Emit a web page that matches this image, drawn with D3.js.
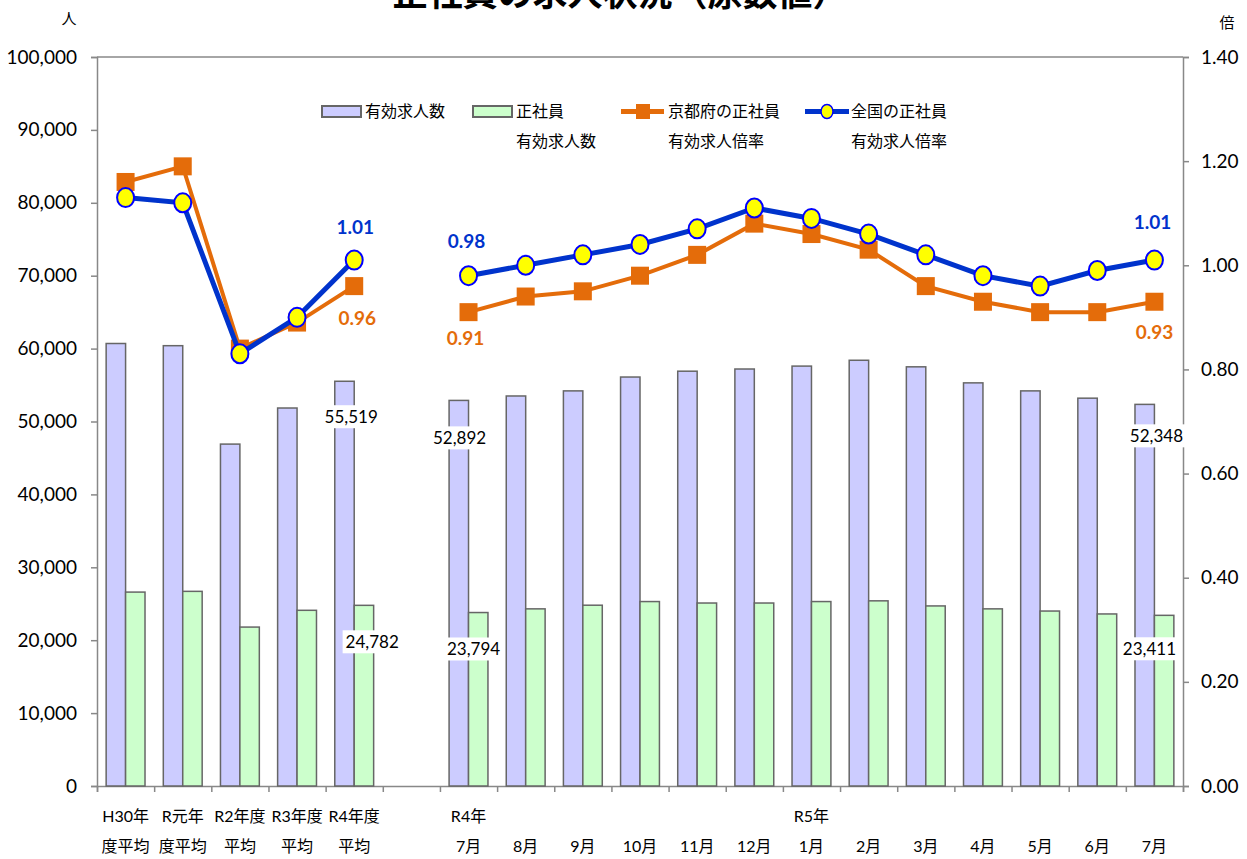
<!DOCTYPE html>
<html>
<head>
<meta charset="utf-8">
<script src="https://cdn.jsdelivr.net/npm/d3@7"></script>
<style>
  body { margin: 0; background: #fff; }
  svg { font-family: Lato, "Noto Sans CJK JP", sans-serif; }
  .axis .domain, .axis line { stroke: #888; stroke-width: 1.5; }
  .axis text { fill: #000; }
</style>
</head>
<body>
<svg id="chart"></svg>
<script>
// categories (two-line labels), "" = empty gap slot
var catLine1 = ["H30年", "R元年", "R2年度", "R3年度", "R4年度", "", "R4年", "", "", "", "", "", "R5年", "", "", "", "", "", ""]
var catLine2 = ["度平均", "度平均", "平均", "平均", "平均", "", "7月", "8月", "9月", "10月", "11月", "12月", "1月", "2月", "3月", "4月", "5月", "6月", "7月"]

// 有効求人数 / 正社員有効求人数 (人)
var allOpenings = [60700, 60400, 46900, 51850, 55519, null, 52892, 53500, 54200, 56100, 56900, 57200, 57600, 58400, 57500, 55300, 54200, 53200, 52348]
var regularOpenings = [26600, 26700, 21800, 24100, 24782, null, 23794, 24300, 24800, 25300, 25100, 25100, 25300, 25400, 24700, 24300, 24000, 23600, 23411]

// 有効求人倍率 (倍)
var kyotoRatio = [1.16, 1.19, 0.84, 0.89, 0.96, null, 0.91, 0.94, 0.95, 0.98, 1.02, 1.08, 1.06, 1.03, 0.96, 0.93, 0.91, 0.91, 0.93]
var nationalRatio = [1.13, 1.12, 0.83, 0.90, 1.01, null, 0.98, 1.00, 1.02, 1.04, 1.07, 1.11, 1.09, 1.06, 1.02, 0.98, 0.96, 0.99, 1.01]

var leftTicks = [0, 10000, 20000, 30000, 40000, 50000, 60000, 70000, 80000, 90000, 100000]
var rightTicks = [0, 0.2, 0.4, 0.6, 0.8, 1.0, 1.2, 1.4]

var labelled = [4, 6, 18]

var dims = { width: 1247, height: 859, left: 97, right: 1183, top: 57, bottom: 786 }

var colors = {
    barAll: "#ccccff",
    barReg: "#ccffcc",
    barStroke: "#666666",
    kyoto: "#e46c0a",
    national: "#0033cc"
}

var numFont = "Lato, sans-serif"

var svg = d3.select("#chart")
    .attr("width", dims.width)
    .attr("height", dims.height)

var idx = d3.range(catLine2.length)

var x = d3.scaleBand()
    .domain(idx)
    .range([dims.left, dims.right])
    .padding(0)

var bw = x.bandwidth() * 0.34
var cx = function (i) { return x(i) + x.bandwidth() / 2 }

var yL = d3.scaleLinear().domain([0, 100000]).range([dims.bottom, dims.top])
var yR = d3.scaleLinear().domain([0, 1.4]).range([dims.bottom, dims.top])

// frame top line
svg.append("line")
    .attr("x1", dims.left).attr("x2", dims.right)
    .attr("y1", dims.top).attr("y2", dims.top)
    .attr("stroke", "#888").attr("stroke-width", 1.5)

// axes
svg.append("g")
    .attr("class", "axis")
    .attr("transform", "translate(" + dims.left + ",0)")
    .call(d3.axisLeft(yL).tickValues(leftTicks).tickFormat(d3.format(",")).tickSize(6).tickPadding(14))
    .attr("font-family", numFont)
    .attr("font-size", 19)

svg.append("g")
    .attr("class", "axis")
    .attr("transform", "translate(" + dims.right + ",0)")
    .call(d3.axisRight(yR).tickValues(rightTicks).tickFormat(d3.format(".2f")).tickSize(6).tickPadding(12))
    .attr("font-family", numFont)
    .attr("font-size", 19)

var xb = d3.scaleLinear().domain([0, catLine2.length]).range([dims.left, dims.right])
svg.append("g")
    .attr("class", "axis")
    .attr("transform", "translate(0," + dims.bottom + ")")
    .call(d3.axisBottom(xb).tickValues(d3.range(0, catLine2.length + 1)).tickFormat("").tickSize(6).tickSizeOuter(6))

// category labels
var catG = svg.append("g").style("font-size", "16px").attr("text-anchor", "middle")
catG.selectAll("text.l1")
    .data(idx)
    .enter()
    .append("text")
    .attr("x", function (i) { return cx(i) })
    .attr("y", 822)
    .text(function (i) { return catLine1[i] })
catG.selectAll("text.l2")
    .data(idx)
    .enter()
    .append("text")
    .attr("x", function (i) { return cx(i) })
    .attr("y", 852)
    .text(function (i) { return catLine2[i] })

// bars
var barIdx = idx.filter(function (i) { return allOpenings[i] != null })

svg.append("g").selectAll("rect")
    .data(barIdx)
    .enter()
    .append("rect")
    .attr("x", function (i) { return cx(i) - bw })
    .attr("y", function (i) { return yL(allOpenings[i]) })
    .attr("width", bw)
    .attr("height", function (i) { return yL(0) - yL(allOpenings[i]) })
    .attr("fill", colors.barAll)
    .attr("stroke", colors.barStroke)
    .attr("stroke-width", 1.5)

svg.append("g").selectAll("rect")
    .data(barIdx)
    .enter()
    .append("rect")
    .attr("x", function (i) { return cx(i) })
    .attr("y", function (i) { return yL(regularOpenings[i]) })
    .attr("width", bw)
    .attr("height", function (i) { return yL(0) - yL(regularOpenings[i]) })
    .attr("fill", colors.barReg)
    .attr("stroke", colors.barStroke)
    .attr("stroke-width", 1.5)

// bar value labels (white boxes)
var barLabelOffset = {
    4: { all: [-3, 36], reg: [18, 37] },
    6: { all: [-9, 38], reg: [5, 37] },
    18: { all: [2, 32], reg: [-5, 34] }
}
function boxLabel(g, tx, ty, txt) {
    var t = g.append("text")
        .attr("x", tx).attr("y", ty)
        .attr("dy", "0.35em")
        .attr("text-anchor", "middle")
        .style("font-size", "17px")
        .text(txt)
    var bb = t.node().getBBox()
    g.insert("rect", function () { return t.node() })
        .attr("x", bb.x - 3).attr("y", bb.y - 1)
        .attr("width", bb.width + 6).attr("height", bb.height + 2)
        .attr("fill", "#fff")
}
var fmt = d3.format(",")
labelled.forEach(function (i) {
    var o = barLabelOffset[i]
    boxLabel(svg.append("g"), cx(i) + o.all[0], yL(allOpenings[i]) + o.all[1], fmt(allOpenings[i]))
    boxLabel(svg.append("g"), cx(i) + o.reg[0], yL(regularOpenings[i]) + o.reg[1], fmt(regularOpenings[i]))
})

// lines
var line = function (series) {
    return d3.line()
        .defined(function (i) { return series[i] != null })
        .x(function (i) { return cx(i) })
        .y(function (i) { return yR(series[i]) })
}

svg.append("path")
    .attr("d", line(kyotoRatio)(idx))
    .attr("fill", "none")
    .attr("stroke", colors.kyoto)
    .attr("stroke-width", 4)

svg.append("g").selectAll("rect")
    .data(idx.filter(function (i) { return kyotoRatio[i] != null }))
    .enter()
    .append("rect")
    .attr("x", function (i) { return cx(i) - 9 })
    .attr("y", function (i) { return yR(kyotoRatio[i]) - 9 })
    .attr("width", 18)
    .attr("height", 18)
    .attr("fill", colors.kyoto)

svg.append("path")
    .attr("d", line(nationalRatio)(idx))
    .attr("fill", "none")
    .attr("stroke", colors.national)
    .attr("stroke-width", 5)

svg.append("g").selectAll("ellipse")
    .data(idx.filter(function (i) { return nationalRatio[i] != null }))
    .enter()
    .append("ellipse")
    .attr("cx", function (i) { return cx(i) })
    .attr("cy", function (i) { return yR(nationalRatio[i]) })
    .attr("rx", 8.5)
    .attr("ry", 9.5)
    .attr("fill", "#ffff00")
    .attr("stroke", "#0000ff")
    .attr("stroke-width", 2)

// ratio labels
var ratioLabelOffset = {
    4: { nat: [1, -33], kyo: [3, 32] },
    6: { nat: [-2, -34], kyo: [-3, 26] },
    18: { nat: [-2, -38], kyo: [0, 31] }
}
labelled.forEach(function (i) {
    var o = ratioLabelOffset[i]
    svg.append("text")
        .attr("x", cx(i) + o.nat[0]).attr("y", yR(nationalRatio[i]) + o.nat[1])
        .attr("dy", "0.35em").attr("text-anchor", "middle")
        .style("font-size", "19px").style("font-weight", "bold")
        .attr("fill", colors.national)
        .text(nationalRatio[i].toFixed(2))
    svg.append("text")
        .attr("x", cx(i) + o.kyo[0]).attr("y", yR(kyotoRatio[i]) + o.kyo[1])
        .attr("dy", "0.35em").attr("text-anchor", "middle")
        .style("font-size", "19px").style("font-weight", "bold")
        .attr("fill", colors.kyoto)
        .text(kyotoRatio[i].toFixed(2))
})

// legend
var lg = svg.append("g").style("font-size", "16px")
lg.append("rect").attr("x", 322).attr("y", 106).attr("width", 39).attr("height", 11)
    .attr("fill", colors.barAll).attr("stroke", colors.barStroke).attr("stroke-width", 2)
lg.append("text").attr("x", 365).attr("y", 117).text("有効求人数")
lg.append("rect").attr("x", 473).attr("y", 106).attr("width", 39).attr("height", 11)
    .attr("fill", colors.barReg).attr("stroke", colors.barStroke).attr("stroke-width", 2)
lg.append("text").attr("x", 516).attr("y", 117).text("正社員")
lg.append("text").attr("x", 516).attr("y", 147).text("有効求人数")
lg.append("line").attr("x1", 621).attr("x2", 664).attr("y1", 111.5).attr("y2", 111.5)
    .attr("stroke", colors.kyoto).attr("stroke-width", 5)
lg.append("rect").attr("x", 636).attr("y", 104).attr("width", 14).attr("height", 15).attr("fill", colors.kyoto)
lg.append("text").attr("x", 668).attr("y", 117).text("京都府の正社員")
lg.append("text").attr("x", 668).attr("y", 147).text("有効求人倍率")
lg.append("line").attr("x1", 805).attr("x2", 849).attr("y1", 111.5).attr("y2", 111.5)
    .attr("stroke", colors.national).attr("stroke-width", 5)
lg.append("ellipse").attr("cx", 827).attr("cy", 111.5).attr("rx", 6).attr("ry", 7)
    .attr("fill", "#ffff00").attr("stroke", "#0000ff").attr("stroke-width", 1.5)
lg.append("text").attr("x", 851).attr("y", 117).text("全国の正社員")
lg.append("text").attr("x", 851).attr("y", 147).text("有効求人倍率")

// title and units
svg.append("text")
    .attr("x", 620).attr("y", 6)
    .attr("text-anchor", "middle")
    .style("font-size", "35px").style("font-weight", "bold")
    .text("正社員の求人状況（原数値）")
svg.append("text").attr("x", 69).attr("y", 24).attr("text-anchor", "middle")
    .style("font-size", "15px").text("人")
svg.append("text").attr("x", 1227).attr("y", 28).attr("text-anchor", "middle")
    .style("font-size", "15px").text("倍")
</script>
</body>
</html>
